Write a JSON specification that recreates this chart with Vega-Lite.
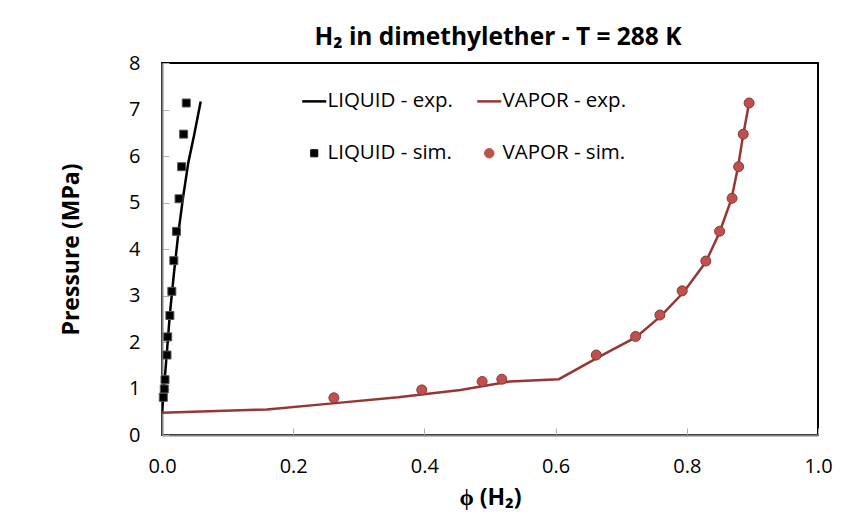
{
  "$schema": "https://vega.github.io/schema/vega-lite/v6.json",
  "width": 656,
  "height": 372,
  "autosize": {"type": "none"},
  "padding": {"left": 162, "top": 63, "right": 27, "bottom": 86},
  "background": "white",
  "config": {
    "font": "Open Sans",
    "view": {"stroke": "#000000", "strokeWidth": 2},
    "axis": {"grid": false, "labelFont": "Open Sans", "titleFont": "Open Sans"}
  },
  "title": {
    "text": "H₂ in dimethylether - T = 288 K",
    "font": "Open Sans",
    "fontSize": 24.5,
    "fontWeight": "bold",
    "color": "#000000",
    "anchor": "middle",
    "offset": 3,
    "dx": 8
  },
  "data": {
    "values": [
      {"series": "LIQUID - exp.", "x": 0.0, "p": 0.47},
      {"series": "LIQUID - exp.", "x": 0.003, "p": 1.0},
      {"series": "LIQUID - exp.", "x": 0.007, "p": 1.7},
      {"series": "LIQUID - exp.", "x": 0.012, "p": 2.6},
      {"series": "LIQUID - exp.", "x": 0.018, "p": 3.45},
      {"series": "LIQUID - exp.", "x": 0.025, "p": 4.35},
      {"series": "LIQUID - exp.", "x": 0.032, "p": 5.1},
      {"series": "LIQUID - exp.", "x": 0.040, "p": 5.85},
      {"series": "LIQUID - exp.", "x": 0.049, "p": 6.45},
      {"series": "LIQUID - exp.", "x": 0.059, "p": 7.17},
      {"series": "VAPOR - exp.", "x": 0.0, "p": 0.48},
      {"series": "VAPOR - exp.", "x": 0.16, "p": 0.55},
      {"series": "VAPOR - exp.", "x": 0.26, "p": 0.68},
      {"series": "VAPOR - exp.", "x": 0.36, "p": 0.81},
      {"series": "VAPOR - exp.", "x": 0.455, "p": 0.97},
      {"series": "VAPOR - exp.", "x": 0.53, "p": 1.15},
      {"series": "VAPOR - exp.", "x": 0.605, "p": 1.2},
      {"series": "VAPOR - exp.", "x": 0.669, "p": 1.7},
      {"series": "VAPOR - exp.", "x": 0.722, "p": 2.1},
      {"series": "VAPOR - exp.", "x": 0.76, "p": 2.55},
      {"series": "VAPOR - exp.", "x": 0.795, "p": 3.07},
      {"series": "VAPOR - exp.", "x": 0.829, "p": 3.72},
      {"series": "VAPOR - exp.", "x": 0.85, "p": 4.36},
      {"series": "VAPOR - exp.", "x": 0.868, "p": 5.07},
      {"series": "VAPOR - exp.", "x": 0.878, "p": 5.76},
      {"series": "VAPOR - exp.", "x": 0.886, "p": 6.46},
      {"series": "VAPOR - exp.", "x": 0.895, "p": 7.14},
      {"series": "LIQUID - sim.", "x": 0.037, "p": 7.14},
      {"series": "LIQUID - sim.", "x": 0.033, "p": 6.47},
      {"series": "LIQUID - sim.", "x": 0.030, "p": 5.77},
      {"series": "LIQUID - sim.", "x": 0.026, "p": 5.08},
      {"series": "LIQUID - sim.", "x": 0.022, "p": 4.38},
      {"series": "LIQUID - sim.", "x": 0.018, "p": 3.75},
      {"series": "LIQUID - sim.", "x": 0.015, "p": 3.09},
      {"series": "LIQUID - sim.", "x": 0.012, "p": 2.57},
      {"series": "LIQUID - sim.", "x": 0.0087, "p": 2.11},
      {"series": "LIQUID - sim.", "x": 0.0076, "p": 1.72},
      {"series": "LIQUID - sim.", "x": 0.0046, "p": 1.19},
      {"series": "LIQUID - sim.", "x": 0.0035, "p": 0.99},
      {"series": "LIQUID - sim.", "x": 0.002, "p": 0.81},
      {"series": "VAPOR - sim.", "x": 0.262, "p": 0.8},
      {"series": "VAPOR - sim.", "x": 0.396, "p": 0.97},
      {"series": "VAPOR - sim.", "x": 0.488, "p": 1.15},
      {"series": "VAPOR - sim.", "x": 0.518, "p": 1.2},
      {"series": "VAPOR - sim.", "x": 0.662, "p": 1.72},
      {"series": "VAPOR - sim.", "x": 0.722, "p": 2.12},
      {"series": "VAPOR - sim.", "x": 0.759, "p": 2.58},
      {"series": "VAPOR - sim.", "x": 0.793, "p": 3.1},
      {"series": "VAPOR - sim.", "x": 0.829, "p": 3.74},
      {"series": "VAPOR - sim.", "x": 0.85, "p": 4.38},
      {"series": "VAPOR - sim.", "x": 0.869, "p": 5.09},
      {"series": "VAPOR - sim.", "x": 0.879, "p": 5.77},
      {"series": "VAPOR - sim.", "x": 0.886, "p": 6.47},
      {"series": "VAPOR - sim.", "x": 0.895, "p": 7.14}
    ]
  },
  "encoding": {
    "x": {
      "field": "x",
      "type": "quantitative",
      "scale": {"domain": [0, 1], "nice": false, "zero": false},
      "axis": {
        "title": "ϕ (H₂)",
        "titleFontSize": 23,
        "titleFontWeight": "bold",
        "titleColor": "#000000",
        "titlePadding": 10,
        "values": [0, 0.2, 0.4, 0.6, 0.8, 1.0],
        "format": ".1f",
        "labelFontSize": 20,
        "labelColor": "#000000",
        "labelPadding": 28,
        "labelFlush": false,
        "domainColor": "#808080",
        "domainWidth": 2,
        "tickColor": "#b0b0b0",
        "tickSize": -7,
        "tickWidth": 1
      }
    },
    "y": {
      "field": "p",
      "type": "quantitative",
      "scale": {"domain": [0, 8], "nice": false, "zero": false},
      "axis": {
        "title": "Pressure (MPa)",
        "titleFontSize": 23,
        "titleFontWeight": "bold",
        "titleColor": "#000000",
        "titlePadding": 45,
        "values": [0, 1, 2, 3, 4, 5, 6, 7, 8],
        "labelFontSize": 20,
        "labelColor": "#000000",
        "labelPadding": 29,
        "labelFlush": false,
        "domainColor": "#808080",
        "domainWidth": 2,
        "tickColor": "#b0b0b0",
        "tickSize": -7,
        "tickWidth": 1
      }
    },
    "color": {
      "field": "series",
      "type": "nominal",
      "scale": {
        "domain": ["LIQUID - exp.", "VAPOR - exp.", "LIQUID - sim.", "VAPOR - sim."],
        "range": ["#000000", "#953735", "#000000", "#C0504D"]
      },
      "legend": {
        "title": null,
        "orient": "none",
        "legendX": 142,
        "legendY": 28,
        "direction": "horizontal",
        "columns": 2,
        "columnPadding": 19,
        "rowPadding": 31,
        "labelFont": "Open Sans",
        "labelFontSize": 20.5,
        "labelColor": "#000000",
        "labelOffset": 3,
        "padding": 0,
        "symbolType": "stroke",
        "encode": {
          "symbols": {
            "update": {
              "shape": {"signal": "datum.value == 'LIQUID - sim.' ? 'square' : datum.value == 'VAPOR - sim.' ? 'circle' : 'stroke'"},
              "size": {"signal": "datum.value == 'LIQUID - sim.' ? 50 : datum.value == 'VAPOR - sim.' ? 90 : 576"},
              "fill": {"signal": "datum.value == 'LIQUID - sim.' ? '#000000' : datum.value == 'VAPOR - sim.' ? '#C0504D' : 'transparent'"},
              "stroke": {"signal": "datum.value == 'LIQUID - sim.' ? '#444444' : datum.value == 'VAPOR - sim.' ? '#8C3836' : scale('color', datum.value)"},
              "strokeWidth": {"signal": "datum.value == 'LIQUID - sim.' || datum.value == 'VAPOR - sim.' ? 1 : 2.5"}
            }
          }
        }
      }
    }
  },
  "layer": [
    {
      "transform": [{"filter": "datum.series == 'VAPOR - exp.' || datum.series == 'LIQUID - exp.'"}],
      "mark": {"type": "line", "strokeWidth": 2.5, "clip": true}
    },
    {
      "transform": [{"filter": "datum.series == 'LIQUID - sim.'"}],
      "mark": {"type": "point", "shape": "square", "filled": true, "size": 64, "opacity": 1, "stroke": "#555555", "strokeWidth": 1}
    },
    {
      "transform": [{"filter": "datum.series == 'VAPOR - sim.'"}],
      "mark": {"type": "point", "shape": "circle", "filled": true, "size": 100, "opacity": 1, "stroke": "#8C3836", "strokeWidth": 1}
    }
  ]
}
